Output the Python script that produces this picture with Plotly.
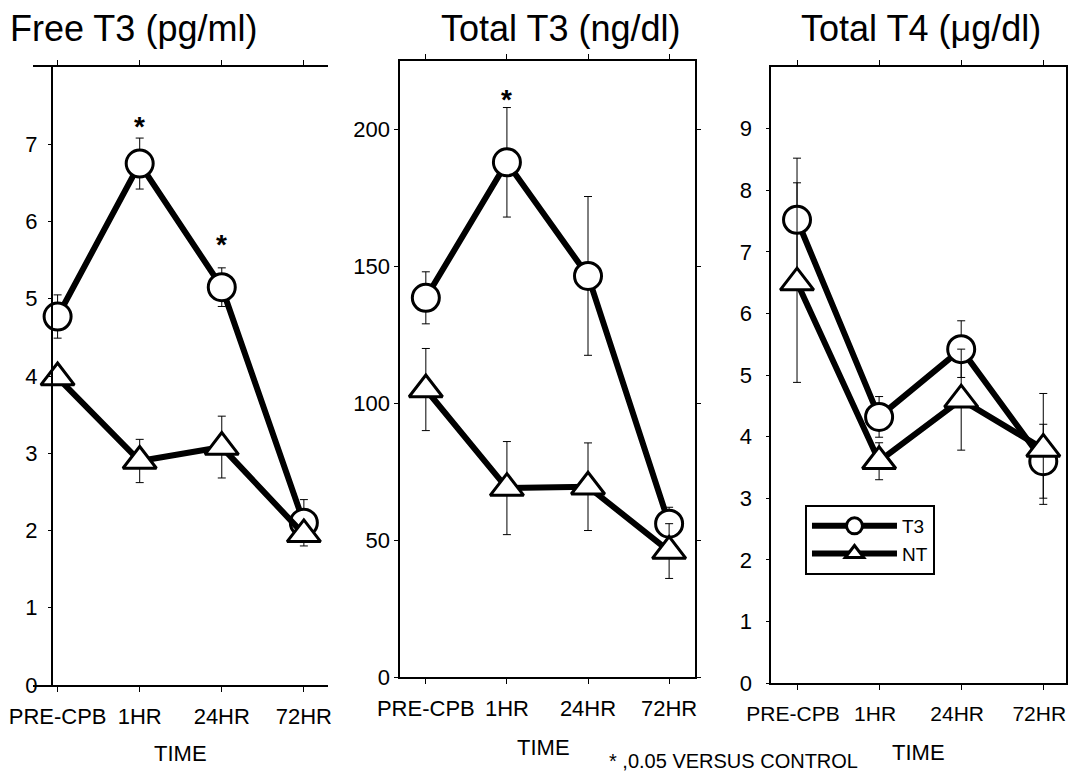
import plotly.graph_objects as go

# ---------------- data ----------------
times = ["PRE-CPB", "1HR", "24HR", "72HR"]

free_t3_T3 = [4.77, 6.75, 5.15, 2.1]
free_t3_T3_err = [0.28, 0.33, 0.25, 0.3]
free_t3_NT = [3.98, 2.9, 3.08, 1.95]
free_t3_NT_err = [0.0, 0.28, 0.4, 0.0]

tot_t3_T3 = [138.5, 188.0, 146.5, 56.0]
tot_t3_T3_err = [9.5, 20.0, 29.0, 6.0]
tot_t3_NT = [105.0, 69.0, 69.5, 46.0]
tot_t3_NT_err = [15.0, 17.0, 16.0, 10.0]

tot_t4_T3 = [7.52, 4.32, 5.42, 3.6]
tot_t4_T3_err = [1.0, 0.33, 0.46, 0.6]
tot_t4_NT = [6.5, 3.6, 4.6, 3.8]
tot_t4_NT_err = [1.62, 0.3, 0.82, 0.9]

# significance asterisks (category, y in data units)
sig_free = [("1HR", 7.23), ("24HR", 5.7)]
sig_tot_t3 = [("1HR", 211.0)]

titles = ["Free T3 (pg/ml)", "Total T3 (ng/dl)", "Total T4 (\u03bcg/dl)"]
y_ticks = [[0, 1, 2, 3, 4, 5, 6, 7], [0, 50, 100, 150, 200], [0, 1, 2, 3, 4, 5, 6, 7, 8, 9]]
y_ranges = [[0, 8], [0, 225], [0, 10]]
footnote = "* ,0.05 VERSUS CONTROL"
axis_title = "TIME"

# ---------------- layout geometry ----------------
# the page puts the figure 8px in from the top-left; the visible width ends at 1068
OFF = 8
W, H = 1060, 766
FONT = "Liberation Sans, Arial, sans-serif"


def px(xp):
    return (xp - OFF) / 1068


def py(yp):
    return 1 - (yp - OFF) / 766


fig = go.Figure()

panels = [
    dict(T3=free_t3_T3, T3e=free_t3_T3_err, NT=free_t3_NT, NTe=free_t3_NT_err,
         xr=[-0.302, 3.289], sig=sig_free),
    dict(T3=tot_t3_T3, T3e=tot_t3_T3_err, NT=tot_t3_NT, NTe=tot_t3_NT_err,
         xr=[-0.318, 3.317], sig=sig_tot_t3),
    dict(T3=tot_t4_T3, T3e=tot_t4_T3_err, NT=tot_t4_NT, NTe=tot_t4_NT_err,
         xr=[-0.314, 3.277], sig=[]),
]

line_style = dict(color="black", width=6)
err_style = dict(type="data", color="black", thickness=1, width=4, visible=True)

for i, p in enumerate(panels):
    xa = "x" if i == 0 else f"x{i+1}"
    ya = "y" if i == 0 else f"y{i+1}"
    show = i == 2
    fig.add_trace(go.Scatter(
        x=times, y=p["T3"], xaxis=xa, yaxis=ya, name="T3", showlegend=show,
        mode="lines+markers", line=line_style,
        marker=dict(symbol="circle", size=27, color="white",
                    line=dict(color="black", width=3)),
        error_y=dict(array=p["T3e"], **err_style),
    ))
    fig.add_trace(go.Scatter(
        x=times, y=p["NT"], xaxis=xa, yaxis=ya, name="NT", showlegend=show,
        mode="lines+markers", line=line_style,
        marker=dict(symbol="triangle-up", size=29, color="white",
                    line=dict(color="black", width=3)),
        error_y=dict(array=p["NTe"], **err_style),
    ))
    for cat, yv in p["sig"]:
        fig.add_annotation(x=cat, y=yv, xref=xa, yref=ya, text="<b>*</b>",
                           showarrow=False, font=dict(size=28, color="black"),
                           yanchor="middle")

axis_base = dict(showline=True, linecolor="black", linewidth=1.5,
                 showgrid=False, zeroline=False, automargin=False)
axis_common = dict(axis_base, tickfont=dict(family=FONT, size=22, color="black"))

layout = dict(
    width=W, height=H, margin=dict(l=0, r=0, t=0, b=0, autoexpand=False),
    paper_bgcolor="white", plot_bgcolor="white",
    font=dict(family=FONT, color="black"),
    showlegend=True,
    legend=dict(x=px(811), y=py(505), xanchor="left", yanchor="top",
                bordercolor="black", borderwidth=2, bgcolor="white",
                font=dict(family=FONT, size=19, color="black"),
                itemwidth=85, tracegroupgap=0),
)

layout["xaxis"] = dict(domain=[px(33), px(330)], range=panels[0]["xr"], anchor="y",
                       type="category", mirror="ticks", ticks="outside", ticklen=5,
                       tickwidth=1, tickcolor="black", ticklabelstandoff=6, **axis_common)
layout["yaxis"] = dict(domain=[py(685), py(67)], range=y_ranges[0], anchor="free",
                       position=px(52), tickvals=y_ticks[0], ticks="outside", ticklen=3,
                       tickwidth=1, tickcolor="black", ticklabelstandoff=6, **axis_common)
layout["yaxis4"] = dict(domain=[py(685), py(67)], range=y_ranges[0], anchor="free",
                        overlaying="y", side="right", position=px(310),
                        tickvals=y_ticks[0], ticks="outside", ticklen=4,
                        tickwidth=1, tickcolor="black", showticklabels=False, **axis_common)

layout["xaxis2"] = dict(domain=[px(403), px(700)], range=panels[1]["xr"], anchor="y2",
                        type="category", mirror="ticks", ticks="outside", ticklen=5,
                        tickwidth=1, tickcolor="black", ticklabelstandoff=6, **axis_common)
layout["yaxis2"] = dict(domain=[py(677), py(61)], range=y_ranges[1], anchor="x2",
                        tickvals=y_ticks[1], mirror="ticks", ticks="outside", ticklen=4,
                        tickwidth=1, tickcolor="black", ticklabelstandoff=0, **axis_common)

layout["xaxis3"] = dict(domain=[px(777), px(1074)], range=panels[2]["xr"], anchor="y3",
                        type="category", mirror="ticks", ticks="outside", ticklen=5,
                        tickwidth=1, tickcolor="black", ticklabelstandoff=6,
                        ticklabelshift=-4,
                        tickfont=dict(family=FONT, size=21, color="black"), **axis_base)
layout["yaxis3"] = dict(domain=[py(683), py(67)], range=y_ranges[2], anchor="x3",
                        tickvals=y_ticks[2], mirror="ticks", ticks="outside", ticklen=3,
                        tickwidth=1, tickcolor="black", ticklabelstandoff=10, **axis_common)

fig.update_layout(**layout)

for t, xc in zip(titles, [134, 565, 928]):
    fig.add_annotation(x=px(xc), y=py(29), xref="paper", yref="paper", text=t,
                       showarrow=False, xanchor="center", yanchor="middle",
                       font=dict(family=FONT, size=36, color="black"))

for xc, yc in zip([182, 548, 925], [753, 747, 752]):
    fig.add_annotation(x=px(xc), y=py(yc), xref="paper", yref="paper", text=axis_title,
                       showarrow=False, xanchor="center", yanchor="middle",
                       font=dict(family=FONT, size=22, color="black"))

fig.add_annotation(x=px(612), y=py(761), xref="paper", yref="paper", text=footnote,
                   showarrow=False, xanchor="left", yanchor="middle",
                   font=dict(family=FONT, size=20, color="black"))

fig.write_html("out.html")
